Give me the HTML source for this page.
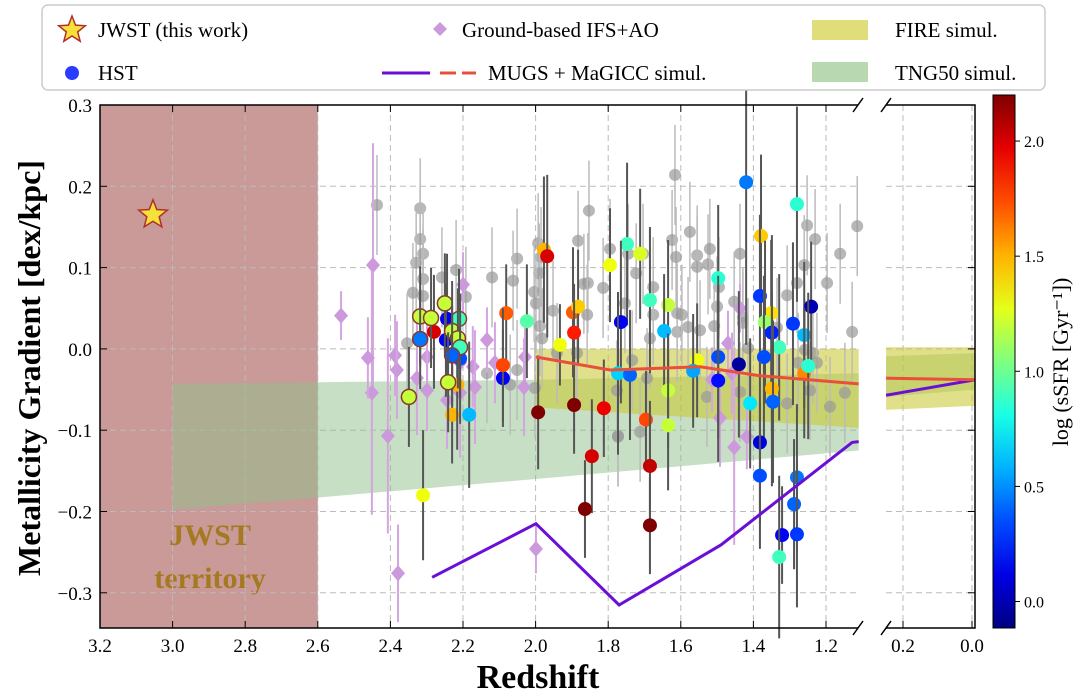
<!DOCTYPE html>
<html><head><meta charset="utf-8"><style>
body{margin:0;background:#fff}
svg{display:block;font-family:"Liberation Serif",serif}
</style></head><body>
<svg id="chart" width="1080" height="695" viewBox="0 0 1080 695">
<g id="bg"></g><g id="grid"></g><g id="bands"></g><g id="greyG"></g><g id="gbG"></g><g id="hstG"></g><g id="linesG"></g><g id="axes"></g><g id="legend"></g>
</svg>
<script>
// ---- data ----
const greyZ=[2.318,2.318,2.310,2.329,2.310,2.338,2.310,2.258,2.219,2.192,2.120,2.051,2.062,1.993,1.985,1.990,2.004,1.999,1.952,1.988,1.982,1.941,1.883,1.853,1.867,1.856,1.814,1.795,1.745,1.723,1.754,1.858,2.354,2.051,2.002,2.070,2.134,1.773,1.886,1.616,1.704,1.624,1.613,1.575,1.555,1.555,1.525,1.520,1.437,1.495,1.500,1.453,1.429,1.429,1.508,1.547,1.580,1.610,1.610,1.597,1.676,1.676,1.685,1.734,1.693,1.776,1.773,1.712,1.528,1.437,1.415,1.335,1.307,1.280,1.252,1.230,1.161,1.197,1.260,1.128,1.148,1.114,1.307,1.277,1.258,1.236,1.225,1.189,1.244,2.437];
const greyG=[0.173,0.135,0.117,0.106,0.086,0.069,0.065,0.088,0.097,0.064,0.088,0.111,0.084,0.130,0.113,0.093,0.070,0.056,0.047,0.028,0.013,-0.005,0.133,0.170,0.080,0.081,0.075,0.123,0.117,0.093,0.056,0.042,0.007,-0.026,-0.048,-0.044,-0.030,-0.107,-0.005,0.214,0.117,0.134,0.113,0.144,0.115,0.101,0.104,0.123,0.117,0.076,0.052,0.058,0.039,0.032,0.028,0.023,0.027,0.021,0.044,0.042,0.042,0.076,0.013,-0.014,-0.036,-0.051,-0.108,-0.102,-0.059,-0.053,0.001,0.026,0.066,0.081,0.152,0.135,0.117,0.081,0.103,0.021,-0.054,0.151,-0.067,-0.017,-0.001,-0.005,-0.017,-0.071,-0.051,0.177];
const hstZ=[1.977,1.968,1.712,1.748,1.420,1.280,1.379,1.795,1.497,1.897,1.883,2.081,2.024,1.894,1.933,1.765,1.685,1.635,1.646,1.382,1.351,1.368,1.349,1.329,1.291,1.260,1.241,1.555,1.497,1.440,1.371,1.260,1.249,1.773,1.740,1.566,1.497,1.635,1.349,1.409,1.346,1.812,1.696,1.635,1.382,1.685,1.382,1.280,1.288,1.321,1.280,1.685,1.329,1.993,1.894,1.845,1.864,2.090,2.090,2.310,2.230,2.183,2.216,2.280,2.244,2.247,2.208];
const hstG=[0.122,0.114,0.117,0.129,0.205,0.178,0.139,0.103,0.087,0.045,0.052,0.044,0.034,0.020,0.005,0.033,0.060,0.054,0.022,0.065,0.044,0.033,0.020,0.002,0.031,0.017,0.052,-0.014,-0.010,-0.019,-0.010,-0.030,-0.021,-0.030,-0.032,-0.027,-0.039,-0.051,-0.049,-0.067,-0.065,-0.073,-0.087,-0.094,-0.115,-0.144,-0.156,-0.158,-0.191,-0.229,-0.228,-0.217,-0.256,-0.078,-0.069,-0.132,-0.197,-0.036,-0.020,-0.180,-0.081,-0.081,-0.044,0.021,0.037,0.011,-0.012];
const hstSSFR=[1.5,2.0,1.25,0.9,0.45,0.85,1.45,1.3,0.85,1.7,1.45,1.7,0.95,1.85,1.3,0.15,0.9,1.2,0.6,0.3,1.4,1.1,0.25,0.9,0.3,0.6,0.0,1.3,0.35,-0.05,0.35,1.6,0.85,0.65,0.4,0.55,0.2,1.2,1.5,0.7,0.4,1.95,1.75,1.2,0.1,2.05,0.35,0.45,0.4,0.15,0.3,2.2,0.9,2.2,2.2,2.0,2.2,0.15,1.75,1.3,1.5,0.6,1.5,2.0,0.15,0.15,0.35];
const hstErr=[0.09,0.1,0.08,0.1,0.2,0.12,0.1,0.07,0.09,0.08,0.07,0.06,0.07,0.06,0.05,0.1,0.09,0.08,0.07,0.1,0.09,0.1,0.12,0.09,0.1,0.09,0.08,0.07,0.1,0.09,0.1,0.08,0.09,0.1,0.08,0.07,0.1,0.07,0.12,0.08,0.1,0.06,0.06,0.08,0.1,0.08,0.09,0.09,0.08,0.06,0.09,0.06,0.1,0.07,0.06,0.07,0.06,0.06,0.07,0.08,0.06,0.09,0.08,0.07,0.08,0.07,0.08];
const outZ=[2.318,2.288,2.250,2.318,2.211,2.230,2.214,2.208,2.230,2.241,2.349];
const outG=[0.040,0.038,0.056,0.012,0.037,0.022,0.013,0.002,-0.008,-0.041,-0.059];
const outSSFR=[1.2,1.2,1.2,0.45,0.9,1.2,1.2,0.9,0.4,1.2,1.2];
const gbZ=[2.536,2.448,2.451,2.462,2.407,2.379,2.200,2.387,2.382,2.299,2.327,2.299,2.244,2.208,2.173,2.167,2.134,2.112,2.029,2.032,2.208,1.437,1.470,1.514,1.459,1.492,1.418,1.453,1.999];
const gbG=[0.041,0.103,-0.054,-0.011,-0.107,-0.276,0.079,-0.008,-0.026,-0.010,-0.036,-0.051,-0.063,-0.054,-0.022,-0.047,0.011,-0.017,-0.010,-0.047,-0.017,0.050,0.007,-0.038,-0.030,-0.085,-0.108,-0.121,-0.246];
const gbErr=[0.03,0.15,0.15,0.05,0.12,0.06,0.04,0.05,0.06,0.04,0.07,0.05,0.06,0.08,0.05,0.07,0.04,0.05,0.04,0.06,0.05,0.03,0.04,0.04,0.05,0.06,0.04,0.12,0.03];
const mugsZ=[2.285,1.999,1.770,1.489,1.128,1.11];
const mugsG=[-0.281,-0.215,-0.315,-0.241,-0.115,-0.114];
const magZ=[1.999,1.795,1.547,1.382,1.11];
const magG=[-0.010,-0.026,-0.022,-0.033,-0.043];
const fireZ=[2.0,1.11], fireTop=[0.0,0.0], fireBot=[-0.072,-0.097];
const tngZ=[3.0,2.0,1.11], tngTop=[-0.043,-0.038,-0.030], tngBot=[-0.198,-0.160,-0.125];
const rZ=[0.249,-0.009], rMugs=[-0.057,-0.038], rMag=[-0.036,-0.038];
const rFireTop=[0.002,0.002], rFireBot=[-0.075,-0.070], rTngTop=[-0.009,-0.005], rTngBot=[-0.059,-0.050];
const star=[3.054,0.165];
const xTicks=[3.2,3.0,2.8,2.6,2.4,2.2,2.0,1.8,1.6,1.4,1.2];
const xTickLabels=["3.2","3.0","2.8","2.6","2.4","2.2","2.0","1.8","1.6","1.4","1.2"];
const rTicks=[0.2,0.0], rTickLabels=["0.2","0.0"];
const yTicks=[0.3,0.2,0.1,0.0,-0.1,-0.2,-0.3];
const yTickLabels=["0.3","0.2","0.1","0.0","−0.1","−0.2","−0.3"];
const cbTicks=[2.0,1.5,1.0,0.5,0.0], cbTickLabels=["2.0","1.5","1.0","0.5","0.0"];

// ---- scales ----
const X0=100,X1=858,Y0=105,Y1=628,R0=886,R1=975;
const sx=z=>X0+(3.2-z)*363;
const sy=g=>Y0+(0.3-g)*813;
const rx=z=>903+(0.2-z)*345;
const cy=v=>95+(2.2-v)*(533/2.315);
const NS="http://www.w3.org/2000/svg";
function mk(tag,attrs,parent){const e=document.createElementNS(NS,tag);for(const k in attrs)e.setAttribute(k,attrs[k]);document.getElementById(parent).appendChild(e);return e;}
function jet(v){let t=(v+0.115)/2.315;t=Math.max(0,Math.min(1,t));
 const r=Math.max(0,Math.min(1,1.5-Math.abs(4*t-3))),g=Math.max(0,Math.min(1,1.5-Math.abs(4*t-2))),b=Math.max(0,Math.min(1,1.5-Math.abs(4*t-1)));
 return `rgb(${r*255|0},${g*255|0},${b*255|0})`;}

// JWST territory
let e=mk('rect',{x:X0,y:Y0,width:sx(2.6)-X0,height:Y1-Y0,fill:'#c99a98'},'bg');

e=mk('text',{x:210,y:545,'font-size':30,'font-weight':'bold','text-anchor':'middle',fill:'#a5791f'},'bg');e.textContent='JWST';

e=mk('text',{x:210,y:588,'font-size':30,'font-weight':'bold','text-anchor':'middle',fill:'#a5791f'},'bg');e.textContent='territory';


// grid
xTicks.forEach(t=>{if(t<3.2)mk('line',{x1:sx(t),x2:sx(t),y1:Y0,y2:Y1,stroke:'#bbb','stroke-dasharray':'6,4'},'grid');});
yTicks.forEach(t=>{mk('line',{x1:X0,x2:X1,y1:sy(t),y2:sy(t),stroke:'#bbb','stroke-dasharray':'6,4'},'grid');mk('line',{x1:R0,x2:R1,y1:sy(t),y2:sy(t),stroke:'#bbb','stroke-dasharray':'6,4'},'grid');});
rTicks.forEach(t=>mk('line',{x1:rx(t),x2:rx(t),y1:Y0,y2:Y1,stroke:'#bbb','stroke-dasharray':'6,4'},'grid'));

// bands
function band(zs,top,bot,f,fill,op,name){let p=zs.map((z,i)=>f(z)+','+sy(top[i])).join(' ')+' '+zs.map((z,i)=>f(z)+','+sy(bot[i])).reverse().join(' ');
 const el=mk('polygon',{points:p,fill:fill,'fill-opacity':op},'bands');}
band(tngZ,tngTop,tngBot,sx,'#8fc08a',0.5,'tng50-band');
band(fireZ,fireTop,fireBot,sx,'#c9c62a',0.55,'fire-band');
band(rZ,rTngTop,rTngBot,rx,'#8fc08a',0.5,'tng50-band-right');
band(rZ,rFireTop,rFireBot,rx,'#c9c62a',0.55,'fire-band-right');

// grey points
greyZ.forEach((z,i)=>{const x=sx(z),y=sy(greyG[i]);
 mk('line',{x1:x,x2:x,y1:y-50,y2:y+50,stroke:'#bbb','stroke-width':1.5},'greyG');
 const c=mk('circle',{cx:x,cy:y,r:6,fill:'#999','fill-opacity':0.7},'greyG');
 });
// ground-based
gbZ.forEach((z,i)=>{const x=sx(z),y=sy(gbG[i]),d=gbErr[i]*813;
 mk('line',{x1:x,x2:x,y1:y-d,y2:y+d,stroke:'#d4a6e0','stroke-width':2},'gbG');
 const p=mk('polygon',{points:`${x},${y-8} ${x+7},${y} ${x},${y+8} ${x-7},${y}`,fill:'#cc99dd'},'gbG');
 });
// HST
hstZ.forEach((z,i)=>{const x=sx(z),y=sy(hstG[i]),d=hstErr[i]*813;
 mk('line',{x1:x,x2:x,y1:y-d,y2:y+d,stroke:'#555','stroke-width':2},'hstG');
 const c=mk('circle',{cx:x,cy:y,r:7,fill:jet(hstSSFR[i])},'hstG');
 });
outZ.forEach((z,i)=>{const x=sx(z),y=sy(outG[i]);
 mk('line',{x1:x,x2:x,y1:y-50,y2:y+50,stroke:'#555','stroke-width':2},'hstG');
 const c=mk('circle',{cx:x,cy:y,r:7.5,fill:jet(outSSFR[i]),stroke:'#8a3a2a','stroke-width':1.5},'hstG');
 });
// lines
function line(zs,gs,f,col,name){const el=mk('polyline',{points:zs.map((z,i)=>f(z)+','+sy(gs[i])).join(' '),fill:'none',stroke:col,'stroke-width':3},'linesG');
 }
line(mugsZ,mugsG,sx,'#6a0fd6','mugs-line');
line(magZ,magG,sx,'#e8503a','magicc-line');
line(rZ,rMugs,rx,'#6a0fd6','mugs-line-right');
line(rZ,rMag,rx,'#e8503a','magicc-line-right');
// star
function starPts(cx,cy,R,r){let p=[];for(let k=0;k<10;k++){const a=-Math.PI/2+k*Math.PI/5,rr=k%2?r:R;p.push((cx+rr*Math.cos(a)).toFixed(1)+','+(cy+rr*Math.sin(a)).toFixed(1));}return p.join(' ');}
e=mk('polygon',{points:starPts(sx(star[0]),sy(star[1]),15,6.5),fill:'#f7e03a',stroke:'#b0302a','stroke-width':1.5},'linesG');


// axes
mk('path',{d:`M${X1},${Y0}H${X0}V${Y1}H${X1}`,fill:'none',stroke:'#000','stroke-width':1.5},'axes');
mk('path',{d:`M${R0},${Y0}H${R1}V${Y1}H${R0}`,fill:'none',stroke:'#000','stroke-width':1.5},'axes');
[[X1,Y0],[X1,Y1],[R0,Y0],[R0,Y1]].forEach(p=>mk('line',{x1:p[0]-5,y1:p[1]+7,x2:p[0]+5,y2:p[1]-7,stroke:'#000','stroke-width':1.5},'axes'));
xTicks.forEach((t,i)=>{const x=sx(t);mk('line',{x1:x,x2:x,y1:Y1,y2:Y1-7,stroke:'#000'},'axes');mk('line',{x1:x,x2:x,y1:Y0,y2:Y0+7,stroke:'#000'},'axes');
 const l=mk('text',{x:x,y:652,'font-size':19,'text-anchor':'middle'},'axes');l.textContent=xTickLabels[i];
 });
rTicks.forEach((t,i)=>{const x=rx(t);mk('line',{x1:x,x2:x,y1:Y1,y2:Y1-7,stroke:'#000'},'axes');
 const l=mk('text',{x:x,y:652,'font-size':19,'text-anchor':'middle'},'axes');l.textContent=rTickLabels[i];
 });
yTicks.forEach((t,i)=>{const y=sy(t);mk('line',{x1:X0,x2:X0+7,y1:y,y2:y,stroke:'#000'},'axes');mk('line',{x1:R1,x2:R1-7,y1:y,y2:y,stroke:'#000'},'axes');
 const l=mk('text',{x:92,y:y+7,'font-size':19,'text-anchor':'end'},'axes');l.textContent=yTickLabels[i];
 });
e=mk('text',{x:538,y:688,'font-size':34,'font-weight':'bold','text-anchor':'middle'},'axes');e.textContent='Redshift';

e=mk('text',{x:0,y:0,'font-size':32,'font-weight':'bold','text-anchor':'middle',transform:'translate(40,368) rotate(-90)'},'axes');e.textContent='Metallicity Gradient [dex/kpc]';

// colorbar
const defs=mk('defs',{},'axes');const lg=document.createElementNS(NS,'linearGradient');lg.setAttribute('id','jetg');lg.setAttribute('x1','0');lg.setAttribute('y1','1');lg.setAttribute('x2','0');lg.setAttribute('y2','0');defs.appendChild(lg);
for(let k=0;k<=10;k++){const s=document.createElementNS(NS,'stop');s.setAttribute('offset',k/10);s.setAttribute('stop-color',jet(-0.115+2.315*k/10));lg.appendChild(s);}
e=mk('rect',{x:993,y:95,width:22,height:533,fill:'url(#jetg)',stroke:'#000'},'axes');

cbTicks.forEach((t,i)=>{const y=cy(t);mk('line',{x1:1015,x2:1020,y1:y,y2:y,stroke:'#000'},'axes');
 const l=mk('text',{x:1024,y:y+6,'font-size':16},'axes');l.textContent=cbTickLabels[i];
 });
e=mk('text',{x:0,y:0,'font-size':22,'text-anchor':'middle',transform:'translate(1068,362) rotate(-90)'},'axes');e.textContent='log (sSFR [Gyr⁻¹])';


// legend
e=mk('rect',{x:42,y:5,width:1003,height:85,rx:6,fill:'#fff',stroke:'#ccc','stroke-width':1.5},'legend');

function lt(x,y,s,n){const t=mk('text',{x:x,y:y,'font-size':21},'legend');t.textContent=s;}
mk('polygon',{points:starPts(72,30,14,6),fill:'#f7e03a',stroke:'#b0302a','stroke-width':1.5},'legend');
lt(98,37,'JWST (this work)','legend-jwst');
mk('circle',{cx:72,cy:73,r:7,fill:'#2a3cff'},'legend');
lt(98,80,'HST','legend-hst');
mk('polygon',{points:'440,22 447,29 440,36 433,29',fill:'#cc99dd'},'legend');
lt(462,37,'Ground-based IFS+AO','legend-ground');
mk('line',{x1:382,x2:430,y1:73,y2:73,stroke:'#6a0fd6','stroke-width':3},'legend');
mk('line',{x1:440,x2:476,y1:73,y2:73,stroke:'#e8503a','stroke-width':3,'stroke-dasharray':'16,6'},'legend');
lt(488,80,'MUGS + MaGICC simul.','legend-mugs-magicc');
mk('rect',{x:812,y:20,width:56,height:20,fill:'#e0de7a'},'legend');
lt(895,37,'FIRE simul.','legend-fire');
mk('rect',{x:812,y:62,width:56,height:20,fill:'#b8d8b2'},'legend');
lt(895,80,'TNG50 simul.','legend-tng50');
</script>
</body></html>
